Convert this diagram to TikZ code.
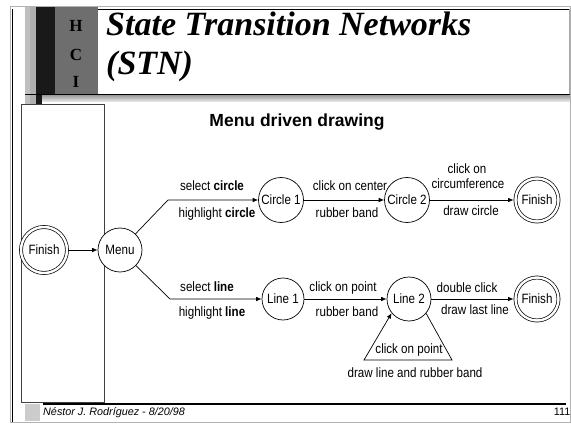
\documentclass[tikz,border=0pt]{standalone}
\usepackage{fontspec}
\newfontfamily\lblfont{Liberation Sans}[FakeStretch=0.86]
\newfontfamily\hdfont{Liberation Sans}
\newfontfamily\slideserif{Liberation Serif}
\usetikzlibrary{arrows.meta}

\begin{document}
\begin{tikzpicture}[x=1pt,y=-1pt,
  lbl/.style={font=\lblfont\fontsize{13.5}{16}\selectfont, inner sep=0pt, text height=9.7pt, text depth=2.7pt},
  state/.style={circle, draw, line width=0.7pt, fill=white, inner sep=0pt, minimum size=44pt,
                font=\lblfont\fontsize{13.5}{16}\selectfont},
  final/.style={state, double, double distance=2.4pt, outer sep=1.9pt},
  arr/.style={line width=0.7pt, -{Latex[length=5.5pt,width=4.5pt]}},
  hci/.style={anchor=base, inner sep=0pt, font=\slideserif\bfseries\fontsize{17}{19}\selectfont},
  titletext/.style={anchor=base west, inner sep=0pt, font=\slideserif\bfseries\itshape\fontsize{34}{40}\selectfont}
]
\useasboundingbox (0,0) rectangle (571,428);
\fill[white] (0,0) rectangle (571,428);

% slide frame
\draw[gray!60, line width=1pt] (10.5,7) rectangle (570,422);
\draw[line width=1.6pt] (12.5,9) -- (12.5,422);

% vertical band on the left of the title
\fill[gray!50] (25,7) rectangle (30,104);
\fill[gray!62] (30,7) rectangle (36,104);
\fill[black!90] (36,7) rectangle (55,95);
\fill[black!90] (36,95) rectangle (42,104);
\fill[black!57] (55,7) rectangle (98,95);

% title box
\fill[white] (98,9) rectangle (569,94);
\draw[line width=0.8pt] (98,9) -- (569,9);
\draw[gray!70, line width=0.8pt] (569,9) -- (569,94);
\draw[line width=1pt] (25,94.5) -- (570,94.5);
\shade[top color=gray!75, bottom color=gray!12] (42,95.5) rectangle (569.5,102);

\node[hci] (hH) at (76,32) {H};
\node[hci] (hC) at (76,61) {C};
\node[hci] (hI) at (76,88) {I};

\node[titletext] (title1) at (106,36) {State Transition Networks};
\node[titletext] (title2) at (106,75) {(STN)};

% left panel
\draw[black!75, line width=0.8pt, fill=white] (21,104) rectangle (104,402);

% footer
\fill[gray!40] (25,404) rectangle (40,421);
\draw[line width=2pt] (43,404) -- (566,404);
\node[anchor=base west, inner sep=0pt, font=\hdfont\itshape\fontsize{10.8}{12}\selectfont] (author) at (43,415) {Néstor J. Rodríguez - 8/20/98};
\node[anchor=base east, inner sep=0pt, font=\hdfont\fontsize{10.8}{12}\selectfont] (pageno) at (570.5,415) {111};

% heading
\node[inner sep=0pt, font=\hdfont\bfseries\fontsize{17.5}{20}\selectfont] (head) at (297,122) {Menu driven drawing};

% states
\node[final, minimum size=46pt] (fin0) at (44,250) {Finish};
\node[state] (menu) at (120,250) {Menu};
\node[state, minimum size=45pt] (c1) at (281,200) {Circle 1};
\node[state, minimum size=45pt] (c2) at (407,200) {Circle 2};
\node[final, minimum size=43pt] (fin1) at (537,200) {Finish};
\node[state, minimum size=42pt] (l1) at (283,299) {Line 1};
\node[state] (l2) at (409,299) {Line 2};
\node[final, minimum size=43pt] (fin2) at (537,299) {Finish};

% bends of the connectors
\coordinate (k1) at (168,200);
\coordinate (k2) at (170,299);
\coordinate (t1) at (364,360);
\coordinate (t2) at (452,360);

% transitions
\draw[arr] (fin0) -- (menu);
\draw[arr] (menu) -- (k1) -- (c1);
\draw[arr] (c1) -- (c2);
\draw[arr] (c2) -- (fin1);
\draw[arr] (menu) -- (k2) -- (l1);
\draw[arr] (l1) -- (l2);
\draw[arr] (l2) -- (fin2);
\draw[arr] (l2.320) -- (t2) -- (t1) -- (l2.219);

% transition labels
\node[lbl] (selc) at (212,187) {select \textbf{circle}};
\node[lbl] (hlc) at (217,214) {highlight \textbf{circle}};
\node[lbl] (coc) at (350,187) {click on center};
\node[lbl] (rb1) at (347,214) {rubber band};
\node[lbl] (clk) at (467,170) {click on};
\node[lbl] (circf) at (468,185) {circumference};
\node[lbl] (dc) at (471,212) {draw circle};
\node[lbl] (sell) at (207,288) {select \textbf{line}};
\node[lbl] (hll) at (212,313) {highlight \textbf{line}};
\node[lbl] (cop) at (343,288) {click on point};
\node[lbl] (rb2) at (347,313) {rubber band};
\node[lbl] (dbl) at (467,289) {double click};
\node[lbl] (dll) at (475,311) {draw last line};
\node[lbl] (cop2) at (409,350) {click on point};
\node[lbl] (dlrb) at (415,374) {draw line and rubber band};
\end{tikzpicture}
\end{document}
